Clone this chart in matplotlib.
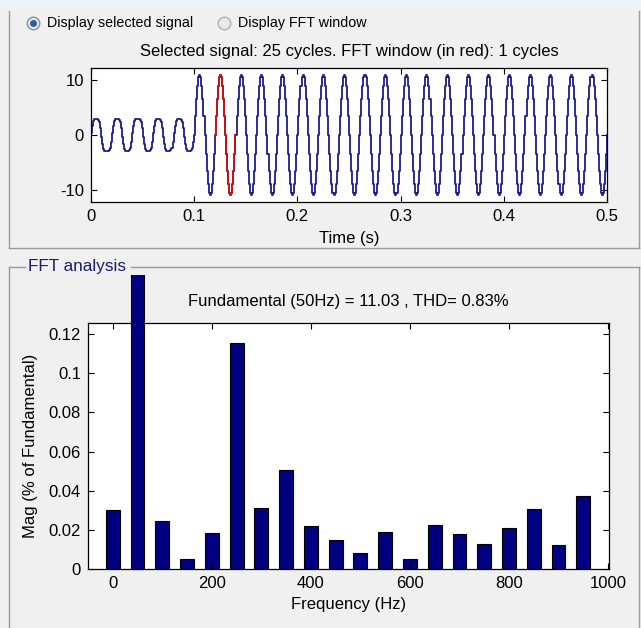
import numpy as np
import matplotlib
matplotlib.use('Agg')
import matplotlib.pyplot as plt
from matplotlib.lines import Line2D
from matplotlib.transforms import Bbox, TransformedBbox

plt.rcParams['font.family'] = ['Liberation Sans', 'DejaVu Sans']
plt.rcParams['axes.unicode_minus'] = False

# ---- data ----
# one cycle of each part of the signal, sampled every 1 ms (50 Hz -> 20 samples)
sample_time = 0.001
small_cycle = [0.3, 1.6, 2.6, 2.9, 2.9, 2.9, 2.9, 2.8, 2.3, 1.2,
               -0.3, -1.6, -2.6, -2.9, -2.9, -2.9, -2.9, -2.8, -2.3, -1.2]
big_cycle = [0.0, 3.4, 6.5, 8.9, 10.5, 11.0, 10.5, 8.9, 6.5, 3.4,
             0.0, -3.4, -6.5, -8.9, -10.5, -11.0, -10.5, -8.9, -6.5, -3.4]
n_small_cycles = 5
n_big_cycles = 20
fft_window = (0.12, 0.14)

freqs = [0, 50, 100, 150, 200, 250, 300, 350, 400, 450, 500,
         550, 600, 650, 700, 750, 800, 850, 900, 950]
mags = [0.030, 100.0, 0.0245, 0.0051, 0.0184, 0.1154, 0.0314, 0.0508, 0.0222, 0.0148, 0.0080,
        0.0191, 0.0049, 0.0227, 0.0177, 0.0130, 0.0208, 0.0307, 0.0124, 0.0373]

time_ticks = [0, 0.1, 0.2, 0.3, 0.4, 0.5]
time_labels = ['0', '0.1', '0.2', '0.3', '0.4', '0.5']
sig_ticks = [-10, 0, 10]
freq_ticks = [0, 200, 400, 600, 800, 1000]
mag_ticks = [0, 0.02, 0.04, 0.06, 0.08, 0.1, 0.12]
mag_labels = ['0', '0.02', '0.04', '0.06', '0.08', '0.1', '0.12']

sig = np.array(small_cycle * n_small_cycles + big_cycle * n_big_cycles + [big_cycle[0]])
t = np.arange(len(sig)) * sample_time

W, H = 641, 628
fig = plt.figure(figsize=(W / 100, H / 100), dpi=100)
fig.patch.set_facecolor('#f0f0f0')

def fx(px):
    return px / W

def fy(py):
    return 1 - py / H

# window strip and panel borders
fig.add_artist(plt.Rectangle((0, fy(10)), 1, 10 / H, transform=fig.transFigure,
                             facecolor='#eef3f9', edgecolor='none'))
border = dict(transform=fig.transFigure, color='#9a9a9a', lw=1.0)
fig.add_artist(Line2D([fx(9), fx(9)], [fy(11), fy(248)], **border))
fig.add_artist(Line2D([fx(9), fx(639)], [fy(248), fy(248)], **border))
fig.add_artist(Line2D([fx(639), fx(639)], [fy(11), fy(248)], **border))
fig.add_artist(Line2D([fx(9), fx(25)], [fy(267), fy(267)], **border))
fig.add_artist(Line2D([fx(131), fx(639)], [fy(267), fy(267)], **border))
fig.add_artist(Line2D([fx(9), fx(9)], [fy(267), fy(628)], **border))
fig.add_artist(Line2D([fx(639), fx(639)], [fy(267), fy(628)], **border))
fig.text(fx(28), fy(266), 'FFT analysis', color='#1a1a70', fontsize=12.3, va='center', ha='left')

# radio buttons
fig.add_artist(Line2D([fx(33)], [fy(23)], marker='o', ms=9, mfc='#e4e9ef', mec='#8a8f96',
                      transform=fig.transFigure))
fig.add_artist(Line2D([fx(33)], [fy(23)], marker='o', ms=4, mfc='#2f5f9a', mec='#2f5f9a',
                      transform=fig.transFigure))
fig.add_artist(Line2D([fx(224)], [fy(23)], marker='o', ms=9, mfc='#e8e8e8', mec='#b0b0b0',
                      transform=fig.transFigure))
fig.text(fx(47), fy(23), 'Display selected signal', fontsize=10.3, va='center', ha='left')
fig.text(fx(238), fy(23), 'Display FFT window', fontsize=10.3, va='center', ha='left')

# ---- signal axes ----
ax1 = fig.add_axes([fx(91), fy(201.7), fx(607) - fx(91), (201.7 - 68.3) / H])
ax1.plot(t, sig, drawstyle='steps-post', color='#1c1c8c', lw=1.3)
mask = (t >= fft_window[0] - 1e-9) & (t <= fft_window[1] + 1e-9)
ax1.plot(t[mask], sig[mask], drawstyle='steps-post', color='#d01010', lw=1.3)
ax1.set_xlim(0, 0.5)
ax1.set_ylim(-12.13, 12.13)
ax1.set_xticks(time_ticks)
ax1.set_xticklabels(time_labels)
ax1.set_yticks(sig_ticks)
ax1.set_xlabel('Time (s)', fontsize=12, labelpad=5)
ax1.set_title('Selected signal: 25 cycles. FFT window (in red): 1 cycles', fontsize=12, pad=9)

# ---- FFT axes ----
ax2 = fig.add_axes([fx(88), fy(569), fx(609) - fx(88), (569 - 323) / H])
bars = ax2.bar(freqs, mags, width=28, color='#000080', edgecolor='#000000', lw=0.8)
# fundamental bar is drawn above the axes box, cut just under the panel border
clip = TransformedBbox(Bbox([[0, 0], [1, fy(275)]]), fig.transFigure)
bars[1].set_clip_box(clip)
ax2.set_xlim(-50, 1002)
ax2.set_ylim(0, 0.1257)
ax2.set_xticks(freq_ticks)
ax2.set_yticks(mag_ticks)
ax2.set_yticklabels(mag_labels)
ax2.set_xlabel('Frequency (Hz)', fontsize=12, labelpad=4)
ax2.set_ylabel('Mag (% of Fundamental)', fontsize=12, labelpad=8)
ax2.set_title('Fundamental (50Hz) = 11.03 , THD= 0.83%', fontsize=12, pad=12)

for ax in (ax1, ax2):
    ax.set_facecolor('white')
    ax.tick_params(direction='in', top=True, right=True, length=4, width=0.8,
                   labelsize=12, pad=5)
    for s in ax.spines.values():
        s.set_linewidth(0.9)

fig.savefig('out.png', dpi=100, facecolor=fig.get_facecolor())
